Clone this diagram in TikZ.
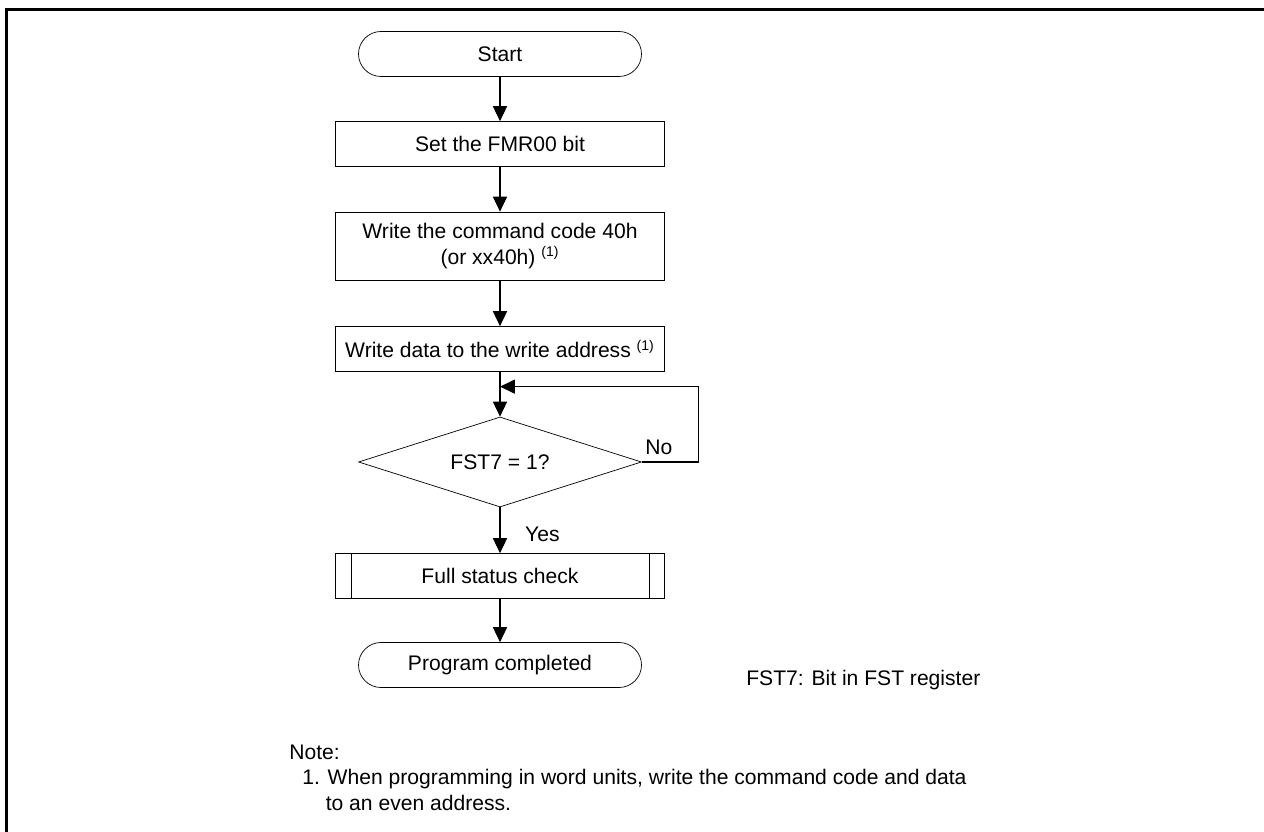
\documentclass[tikz,border=0pt,12pt]{standalone}
\usepackage{fontspec}
\setmainfont{Liberation Sans}
\usetikzlibrary{arrows.meta,positioning,calc,shapes.geometric}

\begin{document}
\begin{tikzpicture}[
    terminal/.style={draw,rounded corners=0.45cm,minimum width=5.66cm,minimum height=0.9cm,align=center},
    procbox/.style={draw,minimum width=6.58cm,minimum height=0.9cm,align=center},
    decision/.style={draw,diamond,aspect=3.14,inner sep=0pt,minimum width=5.66cm,minimum height=1.8cm},
    note/.style={anchor=west,inner sep=0pt},
    arr/.style={-{Triangle[length=8.5pt,width=8pt]},line width=0.7pt},
    >=Stealth
]
\useasboundingbox (0,0) rectangle (25.28,-16.64);
\draw[line width=1.7pt] (0.13,-16.64) -- (0.13,-0.2) -- (25.28,-0.2);

\node[terminal] (start) at (10,-1.08) {Start};
\node[procbox] (fmr) at (10,-2.88) {Set the FMR00 bit};
\node[procbox,minimum height=1.36cm] (cmd) at (10,-4.92) {Write the command code 40h\\(or xx40h) \textsuperscript{\scriptsize(1)}};
\node[procbox] (data) at (10,-6.98) {Write data to the write address \textsuperscript{\scriptsize(1)}};
\node[decision] (dec) at (10,-9.24) {FST7 = 1?};
\node[procbox] (full) at (10,-11.52) {Full status check};
\node[terminal] (prog) at (10,-13.3) {Program completed};

% subroutine side bars
\draw ($(full.north west)+(0.32,0)$) -- ($(full.south west)+(0.32,0)$);
\draw ($(full.north east)-(0.32,0)$) -- ($(full.south east)-(0.32,0)$);

\coordinate (loopin) at ($(data.south)!0.33!(dec.north)$);

\draw[arr] (start) -- (fmr);
\draw[arr] (fmr) -- (cmd);
\draw[arr] (cmd) -- (data);
\draw[arr] (data) -- (dec);
\draw[arr] (dec.east) -- ++(1.14,0) node[pos=0.3,above] {No} |- (loopin);
\draw[arr] (dec) -- (full) node[pos=0.6,right,xshift=10pt] {Yes};
\draw[arr] (full) -- (prog);

\node[note] (fstnote) at (14.92,-13.6) {FST7: Bit in FST register};
\node[note] (notehd) at (5.78,-15.04) {Note:};
\node[note] (note1) at (6.04,-15.58) {1. When programming in word units, write the command code and data};
\node[note] (note2) at (6.04,-16.06) {\phantom{1.\ }to an even address.};
\end{tikzpicture}
\end{document}
